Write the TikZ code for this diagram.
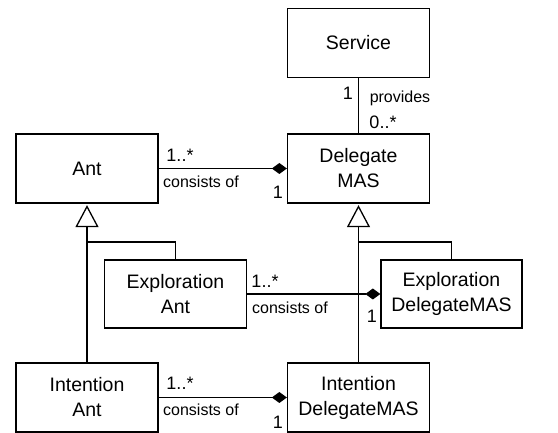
\documentclass[tikz,border=0pt]{standalone}
\usepackage{fontspec}
\setmainfont{Liberation Sans}
\usetikzlibrary{arrows.meta}
\begin{document}
\begin{tikzpicture}[x=1pt,y=-1pt,line width=1.3pt,
  cls/.style={draw,rectangle,minimum width=142pt,minimum height=69pt,align=center,inner sep=0pt,
    font=\fontsize{19.5}{25}\selectfont},
  lbl/.style={inner sep=0pt,font=\fontsize{16}{18}\selectfont},
  mult/.style={inner sep=0pt,font=\fontsize{18}{20}\selectfont},
  gen/.style={-{Triangle[open,length=22pt,width=23pt,line width=1.3pt]},shorten >=1.5pt},
  comp/.style={-{Diamond[length=15pt,width=11pt]}}]
\useasboundingbox (0,0) rectangle (558,433);
\node[cls] (service) at (358.5,43) {Service};
\node[cls] (ant) at (87,168.5) {Ant};
\node[cls] (dmas) at (358.5,168.5) {Delegate\\MAS};
\node[cls,minimum height=68pt] (eant) at (175.5,294) {Exploration\\Ant};
\node[cls,minimum height=68pt,minimum width=141pt] (edmas) at (451.5,294) {Exploration\\DelegateMAS};
\node[cls] (iant) at (87,397.5) {Intention\\Ant};
\node[cls] (idmas) at (358.5,397.5) {Intention\\DelegateMAS};
\coordinate (antj) at (87,242);
\coordinate (dmasj) at (358.5,242);
% generalizations
\draw[gen] (iant.north) -- (ant.south);
\draw (eant.north) |- (antj);
\draw[gen] (idmas.north) -- (dmas.south);
\draw (edmas.north) |- (dmasj);
% service association
\draw (service.south) -- (dmas.north);
\node[mult] (s1) at (348,93) {1};
\node[lbl] (sprov) at (400,98) {provides};
\node[mult] (s0) at (383,122) {0..*};
% compositions
\draw[comp] (ant.east) -- (dmas.west);
\node[mult] (a1) at (180,155) {1..*};
\node[lbl] (a2) at (201,182) {consists of};
\node[mult] (a3) at (278,192) {1};
\draw[comp] (eant.east) -- (edmas.west);
\node[mult] (e1) at (265,281) {1..*};
\node[lbl] (e2) at (290,308) {consists of};
\node[mult] (e3) at (372,316) {1};
\draw[comp] (iant.east) -- (idmas.west);
\node[mult] (i1) at (180,383) {1..*};
\node[lbl] (i2) at (201,410) {consists of};
\node[mult] (i3) at (278,422) {1};
\end{tikzpicture}
\end{document}
